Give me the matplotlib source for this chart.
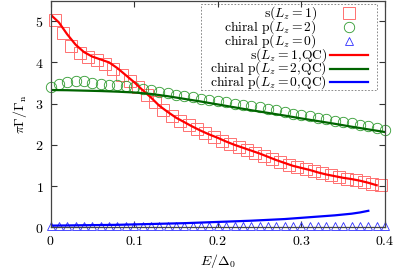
import numpy as np
import matplotlib
matplotlib.use("Agg")
import matplotlib.pyplot as plt
from matplotlib.patches import Rectangle

plt.rcParams["mathtext.fontset"] = "cm"
plt.rcParams["font.family"] = "serif"

# ---- data ----
e_sq = [0.005, 0.015, 0.025, 0.035, 0.045, 0.055, 0.065, 0.075, 0.085, 0.095,
        0.105, 0.115, 0.125, 0.135, 0.145, 0.155, 0.165, 0.175, 0.185, 0.195,
        0.205, 0.215, 0.225, 0.235, 0.245, 0.255, 0.265, 0.275, 0.285, 0.295,
        0.305, 0.315, 0.325, 0.335, 0.345, 0.355, 0.365, 0.375, 0.385, 0.395]
s_pts = [5.02, 4.72, 4.40, 4.22, 4.14, 4.06, 3.96, 3.85, 3.70, 3.55,
         3.40, 3.22, 3.05, 2.85, 2.70, 2.58, 2.48, 2.38, 2.28, 2.20,
         2.10, 2.02, 1.95, 1.88, 1.80, 1.73, 1.66, 1.58, 1.52, 1.47,
         1.41, 1.36, 1.31, 1.26, 1.22, 1.18, 1.14, 1.10, 1.06, 1.02]

e_grid = [0.00, 0.01, 0.02, 0.03, 0.04, 0.05, 0.06, 0.07, 0.08, 0.09,
          0.10, 0.11, 0.12, 0.13, 0.14, 0.15, 0.16, 0.17, 0.18, 0.19,
          0.20, 0.21, 0.22, 0.23, 0.24, 0.25, 0.26, 0.27, 0.28, 0.29,
          0.30, 0.31, 0.32, 0.33, 0.34, 0.35, 0.36, 0.37, 0.38, 0.39, 0.40]
p2_pts = [3.40, 3.47, 3.53, 3.56, 3.54, 3.50, 3.47, 3.45, 3.44, 3.42,
          3.40, 3.36, 3.32, 3.28, 3.25, 3.22, 3.18, 3.15, 3.12, 3.09,
          3.06, 3.03, 3.00, 2.97, 2.94, 2.92, 2.88, 2.84, 2.80, 2.76,
          2.73, 2.70, 2.66, 2.62, 2.59, 2.55, 2.52, 2.48, 2.45, 2.41, 2.37]
p0_pts = [0.03, 0.03, 0.03, 0.03, 0.03, 0.03, 0.03, 0.03, 0.03, 0.03,
          0.03, 0.03, 0.03, 0.03, 0.03, 0.03, 0.03, 0.03, 0.03, 0.03,
          0.03, 0.03, 0.03, 0.03, 0.03, 0.03, 0.03, 0.03, 0.03, 0.03,
          0.03, 0.03, 0.03, 0.03, 0.03, 0.03, 0.03, 0.03, 0.03, 0.03, 0.03]

e_s_qc = e_grid[:40]
s_qc = [5.16, 4.97, 4.68, 4.43, 4.25, 4.14, 4.07, 4.00, 3.86, 3.69,
        3.52, 3.33, 3.15, 2.95, 2.80, 2.66, 2.55, 2.44, 2.34, 2.25,
        2.17, 2.08, 2.00, 1.93, 1.86, 1.79, 1.71, 1.63, 1.56, 1.49,
        1.44, 1.39, 1.33, 1.28, 1.24, 1.20, 1.17, 1.13, 1.08, 1.02]

e_p2_qc = [0.00, 0.02, 0.04, 0.06, 0.08, 0.10, 0.12, 0.14, 0.16, 0.18, 0.20,
           0.22, 0.24, 0.26, 0.28, 0.30, 0.32, 0.34, 0.36, 0.38, 0.40]
p2_qc = [3.33, 3.325, 3.315, 3.305, 3.29, 3.27, 3.235, 3.18, 3.115, 3.05, 2.98,
         2.91, 2.84, 2.775, 2.71, 2.64, 2.575, 2.51, 2.44, 2.375, 2.31]

e_p0_qc = [0.00, 0.04, 0.08, 0.12, 0.16, 0.20, 0.24, 0.28, 0.30, 0.32, 0.34,
           0.36, 0.37, 0.38]
p0_qc = [0.04, 0.05, 0.06, 0.08, 0.10, 0.13, 0.16, 0.20, 0.23, 0.26, 0.29,
         0.33, 0.36, 0.40]

labels = [r"$\mathrm{s}(L_z=1)$", r"$\mathrm{chiral\ p}(L_z=2)$",
          r"$\mathrm{chiral\ p}(L_z=0)$", r"$\mathrm{s}(L_z=1{,}\mathrm{QC})$",
          r"$\mathrm{chiral\ p}(L_z=2{,}\mathrm{QC})$",
          r"$\mathrm{chiral\ p}(L_z=0{,}\mathrm{QC})$"]
x_ticks = [0, 0.1, 0.2, 0.3, 0.4]
x_labels = ["$0$", "$0.1$", "$0.2$", "$0.3$", "$0.4$"]
y_ticks = [0, 1, 2, 3, 4, 5]
y_labels = ["$0$", "$1$", "$2$", "$3$", "$4$", "$5$"]

# ---- figure ----
fig = plt.figure(figsize=(3.99, 2.73), dpi=100)
ax = fig.add_axes([0.1266, 0.1674, 0.8384, 0.8306])

sq_col = "#ff7070"
ci_col = "#2e9a2e"
tr_col = "#3030ff"

ax.plot(e_sq, s_pts, ls="none", marker="s", ms=8.8, mfc="none", mec=sq_col,
        mew=0.7, clip_on=False)
ax.plot(e_grid, p2_pts, ls="none", marker="o", ms=7.5, mfc="none", mec=ci_col,
        mew=0.6, clip_on=False)
ax.plot(e_grid, p0_pts, ls="none", marker="^", ms=5.8, mfc="none", mec=tr_col,
        mew=0.6, clip_on=False)
ax.plot(e_s_qc, s_qc, color="#ff0000", lw=1.6)
ax.plot(e_p2_qc, p2_qc, color="#006400", lw=1.6)
ax.plot(e_p0_qc, p0_qc, color="#0000ff", lw=1.6)

ax.set_xlim(0, 0.4)
ax.set_ylim(0, 5.5)
ax.set_xticks(x_ticks)
ax.set_xticklabels(x_labels)
ax.set_yticks(y_ticks)
ax.set_yticklabels(y_labels)
ax.tick_params(direction="in", length=4, width=0.8, top=True, right=True,
               labelsize=10, pad=5, colors="#333333", labelcolor="black")
for sp in ax.spines.values():
    sp.set_linewidth(0.9)
    sp.set_color("#444444")

ax.set_xlabel(r"$E/\Delta_0$", fontsize=10, labelpad=3)
ax.set_ylabel(r"$\pi\Gamma/\Gamma_{\rm n}$", fontsize=10, labelpad=4)

# ---- gnuplot-style key ----
ax.add_patch(Rectangle((0.450, 0.605), 0.526, 0.379, transform=ax.transAxes,
                       fill=False, ls=(0, (2, 2)), lw=0.6, ec="#777777"))
row_y = [0.946, 0.884, 0.823, 0.761, 0.700, 0.640]
text_x = [0.797, 0.797, 0.797, 0.827, 0.827, 0.827]
for lab, ty, tx in zip(labels, row_y, text_x):
    ax.text(tx, ty, lab, transform=ax.transAxes, ha="right", va="center",
            fontsize=9.8)
ax.plot([0.892], [row_y[0]], transform=ax.transAxes, marker="s", ms=8.5,
        mfc="none", mec=sq_col, mew=0.7, ls="none")
ax.plot([0.892], [row_y[1]], transform=ax.transAxes, marker="o", ms=7.5,
        mfc="none", mec=ci_col, mew=0.6, ls="none")
ax.plot([0.892], [row_y[2]], transform=ax.transAxes, marker="^", ms=5.8,
        mfc="none", mec=tr_col, mew=0.6, ls="none")
for ty, c in zip(row_y[3:], ["#ff0000", "#006400", "#0000ff"]):
    ax.plot([0.836, 0.949], [ty, ty], transform=ax.transAxes, color=c, lw=1.6)

fig.savefig("out.png", dpi=100)
